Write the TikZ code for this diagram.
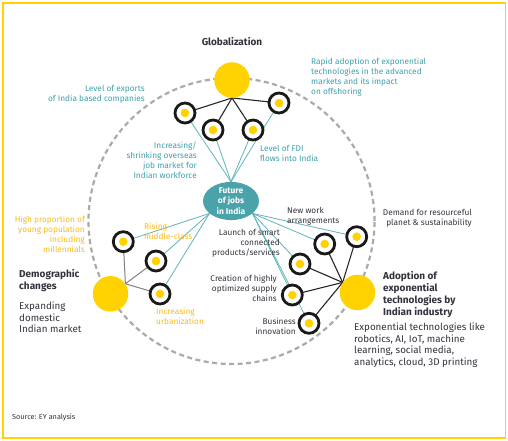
\documentclass[tikz,border=0pt]{standalone}
\usepackage{fontspec}
\setmainfont{Fira Sans}
\usetikzlibrary{shapes.geometric,backgrounds}
\definecolor{eyyellow}{RGB}{255,210,0}
\definecolor{lblyellow}{RGB}{250,186,20}
\definecolor{tealtxt}{RGB}{62,160,170}
\definecolor{tealfill}{RGB}{74,163,170}
\definecolor{tealline}{RGB}{95,180,188}
\definecolor{darktxt}{RGB}{50,50,60}
\definecolor{dashgray}{RGB}{170,170,170}
\begin{document}
\begin{tikzpicture}[x=1pt,y=-1pt,
  hub/.style={circle,fill=eyyellow,minimum size=35.5pt,inner sep=0pt},
  ring/.style={circle,draw=black!90,line width=2.8pt,fill=white,minimum size=20pt,inner sep=0pt,
    path picture={\fill[eyyellow] (path picture bounding box.center) circle [radius=4.3pt];}},
  fut/.style={ellipse,fill=tealfill,minimum width=56pt,minimum height=38pt,inner sep=0pt,
    text=white,font=\bfseries\fontsize{8.4}{10.5}\selectfont,align=center},
  tline/.style={draw=tealline,line width=0.8pt},
  bline/.style={draw=black!85,line width=1.1pt},
  gline/.style={draw=black!50,line width=1pt},
  small/.style={inner sep=0pt,font=\fontsize{8.3}{10}\selectfont},
  tlbl/.style={small,text=tealtxt},
  ylbl/.style={small,text=lblyellow},
  dlbl/.style={small,text=darktxt},
  head/.style={inner sep=0pt,text=darktxt,font=\bfseries\fontsize{10}{12}\selectfont},
  body/.style={inner sep=0pt,text=darktxt,font=\fontsize{9.8}{11.7}\selectfont}]
\useasboundingbox (0,0) rectangle (508,441);
\draw[eyyellow,line width=1.5pt] (3,3) rectangle (505.5,438);

% hubs and rings
\node[hub] (glob) at (232,80) {};
\node[ring] (g1) at (185,113) {};
\node[ring] (g2) at (213,130) {};
\node[ring] (g3) at (253,130) {};
\node[ring] (g4) at (279,103) {};

\node[hub] (dem) at (110.5,293.8) {};
\node[ring] (d1) at (123.3,241.7) {};
\node[ring] (d2) at (156,261) {};
\node[ring] (d3) at (160,294) {};

\node[hub] (adp) at (357.5,292.5) {};
\node[ring] (a1) at (356.7,236.7) {};
\node[ring] (a2) at (324.7,244) {};
\node[ring] (a3) at (300,264) {};
\node[ring] (a4) at (292.3,295) {};
\node[ring] (a5) at (309,323.3) {};

\node[fut] (fut) at (231,201) {Future\\of jobs\\in India};

\begin{scope}[on background layer]
\draw[dashgray,line width=2.2pt,dash pattern=on 5pt off 3.5pt] (231.5,221) circle [radius=143pt];
% teal connectors
\foreach \r in {g1,g2,g3,g4} \draw[tline] (fut.north) -- (\r.center);
\foreach \r in {d1,d2,d3} \draw[tline] (fut.210) -- (\r.center);
\foreach \r in {a1,a2,a3,a4,a5} \draw[tline] (fut.-30) -- (\r.center);
% hub connectors
\foreach \r in {g1,g2,g3,g4} \draw[bline] (glob.south) -- (\r.center);
\foreach \r in {d1,d2,d3} \draw[gline] (dem.34) -- (\r.center);
\foreach \r in {a1,a2,a3,a4,a5} \draw[bline] (adp.146) -- (\r.center);
\end{scope}

% labels
\node[head,anchor=center] (tglob) at (232,42) {Globalization};
\node[tlbl,align=right,anchor=north east] (t1) at (145,85.5) {Level of exports\\of India based companies};
\node[tlbl,align=right,anchor=north east] (t2) at (197,141.5) {Increasing/\\shrinking overseas\\job market for\\Indian workforce};
\node[tlbl,align=left,anchor=north west] (t3) at (260,145.5) {Level of FDI\\flows into India};
\node[tlbl,align=left,anchor=north west] (t4) at (311,57.5) {Rapid adoption of exponential\\technologies in the advanced\\markets and its impact\\on offshoring};

\node[ylbl,align=right,anchor=north east] (t5) at (85,215.5) {High proportion of\\young population\\including\\millennials};
\node[ylbl,align=left,anchor=north west] (t6) at (144,222.5) {Rising\\middle-class};
\node[ylbl,align=left,anchor=north west] (t7) at (156,307.5) {Increasing\\urbanization};
\node[head,align=left,anchor=north west] (t8) at (19,269.5) {Demographic\\changes};
\node[body,align=left,anchor=north west] (t9) at (19,301.5) {Expanding\\domestic\\Indian market};

\node[dlbl,align=left,anchor=north west] (t10) at (287,207.5) {New work\\arrangements};
\node[dlbl,align=right,anchor=north east] (t11) at (280,229.5) {Launch of smart\\connected\\products/services};
\node[dlbl,align=right,anchor=north east] (t12) at (277,274.5) {Creation of highly\\optimized supply\\chains};
\node[dlbl,align=right,anchor=north east] (t13) at (296,317.5) {Business\\innovation};
\node[dlbl,align=right,anchor=north east] (t14) at (472,209.5) {Demand for resourceful\\planet \& sustainability};
\node[head,align=left,anchor=north west] (t15) at (383,271.5) {Adoption of\\exponential\\technologies by\\Indian industry};
\node[body,align=left,anchor=north west] (t16) at (354,322.5) {Exponential technologies like\\robotics, AI, IoT, machine\\learning, social media,\\analytics, cloud, 3D printing};

\node[inner sep=0pt,text=darktxt,font=\fontsize{7.3}{9}\selectfont,anchor=north west] (src) at (12,414) {Source: EY analysis};
\end{tikzpicture}
\end{document}
